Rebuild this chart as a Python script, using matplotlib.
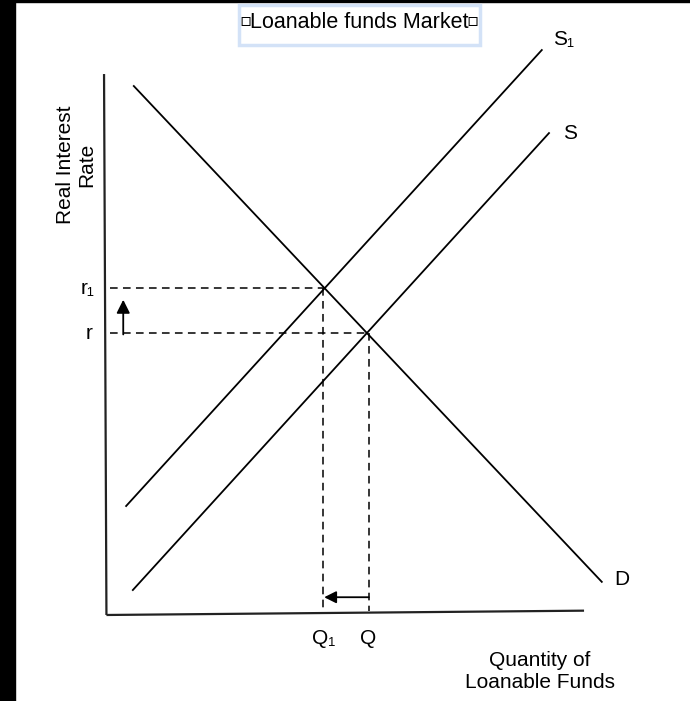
import matplotlib
matplotlib.use("Agg")
import matplotlib.pyplot as plt
from matplotlib.patches import Rectangle
import numpy as np

plt.rcParams['font.family'] = ['Liberation Sans', 'DejaVu Sans']

# Schematic curve endpoints (quantity, rate) in arbitrary units
demand_q = [6.0, 103.5]
demand_r = [110.2, 6.9]
supply_q = [5.8, 92.5]
supply_r = [5.2, 100.4]
supply1_q = [4.4, 91.0]
supply1_r = [22.7, 117.7]

curve_labels = ["D", "S", "S\u2081"]
rate_labels = ["r\u2081", "r"]
qty_labels = ["Q\u2081", "Q"]
title_text = "Loanable funds Market"
ylabel = "Real Interest\nRate"
xlabel = "Quantity of\nLoanable Funds"


def intersect(q1, r1, q2, r2):
    m1 = (r1[1] - r1[0]) / (q1[1] - q1[0])
    m2 = (r2[1] - r2[0]) / (q2[1] - q2[0])
    b1 = r1[0] - m1 * q1[0]
    b2 = r2[0] - m2 * q2[0]
    x = (b2 - b1) / (m1 - m2)
    return x, m1 * x + b1


q_e1, r_e1 = intersect(demand_q, demand_r, supply1_q, supply1_r)
q_e, r_e = intersect(demand_q, demand_r, supply_q, supply_r)

fig = plt.figure(figsize=(6.9, 7.01), dpi=100)
ax = fig.add_axes([0, 0, 1, 1])
ax.set_xlim(-21.875, 121.875)
ax.set_ylim(-17.92, 128.125)
ax.axis('off')

# black frame strips
fig.patches.append(Rectangle((0, 0), 15 / 690, 1, transform=fig.transFigure, color='black', zorder=0))
fig.patches.append(Rectangle((0, 1 - 2 / 701), 1, 2 / 701, transform=fig.transFigure, color='black', zorder=0))

lw = 1.3
# axes
ax.plot([-0.2, 0.3], [112.7, 0], color='#222222', lw=1.6, solid_capstyle='butt')
ax.plot([0.3, 99.8], [0, 0.9], color='#222222', lw=1.6, solid_capstyle='butt')

# curves
ax.plot(demand_q, demand_r, color='black', lw=lw)
ax.plot(supply_q, supply_r, color='black', lw=lw)
ax.plot(supply1_q, supply1_r, color='black', lw=lw)

# dashed guides
dash = dict(color='black', lw=1.1, ls=(0, (5, 3.5)))
ax.plot([1.0, q_e1], [r_e1, r_e1], **dash)
ax.plot([1.0, q_e], [r_e, r_e], **dash)
ax.plot([q_e1 - 0.4, q_e1 - 0.4], [r_e1, 0.6], **dash)
ax.plot([q_e + 0.4, q_e + 0.4], [r_e, 0.9], **dash)

# arrows
ax.annotate('', xy=(3.8, r_e1 - 2.4), xytext=(3.8, r_e - 0.3),
            arrowprops=dict(arrowstyle='-|>', color='black', lw=1.3, mutation_scale=20,
                            shrinkA=0, shrinkB=0))
ax.annotate('', xy=(q_e1 - 0.1, 3.7), xytext=(q_e + 0.4, 3.7),
            arrowprops=dict(arrowstyle='-|>', color='black', lw=1.3, mutation_scale=18,
                            shrinkA=0, shrinkB=0))

# curve labels
fs = 15
ax.text(107.7, 7.3, curve_labels[0], fontsize=fs, ha='center', va='center')
ax.text(96.8, 100.4, curve_labels[1], fontsize=fs, ha='center', va='center')
ax.text(95.5, 119.8, curve_labels[2], fontsize=fs, ha='center', va='center')

# rate / quantity labels
ax.text(-3.6, r_e1, rate_labels[0], fontsize=fs, ha='center', va='center')
ax.text(-3.3, r_e, rate_labels[1], fontsize=fs, ha='center', va='center')
ax.text(q_e1 - 0.3, -4.8, qty_labels[0], fontsize=fs, ha='center', va='center')
ax.text(q_e + 0.3, -4.8, qty_labels[1], fontsize=fs, ha='center', va='center')

# axis titles
ax.text(-6.0, 93.8, ylabel, fontsize=15, ha='center', va='center', rotation=90, linespacing=1.15)
ax.text(90.6, -11.8, xlabel, fontsize=15, ha='center', va='center', linespacing=1.15)

# title with light-blue box and small square markers
fig.patches.append(Rectangle((239 / 690, 1 - 45 / 701), 241 / 690, 40 / 701,
                             transform=fig.transFigure, fill=False, edgecolor='#d3e2f7', lw=2.5, zorder=1))
fig.text(359 / 690, 1 - 23 / 701, title_text, fontsize=15.5, ha='center', va='center')
fig.text(245 / 690, 1 - 21 / 701, "\u25ab", fontsize=13, ha='center', va='center',
         family=['DejaVu Sans'])
fig.text(473 / 690, 1 - 21 / 701, "\u25ab", fontsize=13, ha='center', va='center',
         family=['DejaVu Sans'])

fig.savefig('out.png', dpi=100)
